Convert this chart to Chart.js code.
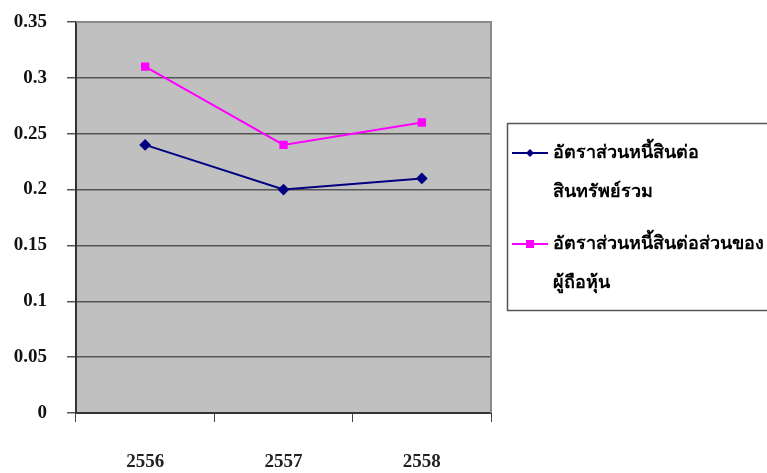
<!DOCTYPE html>
<html>
<head>
<meta charset="utf-8">
<script src="https://cdn.jsdelivr.net/npm/chart.js@4/dist/chart.umd.min.js"></script>
<style>
  html, body { margin: 0; padding: 0; background: #ffffff; }
  #wrap { position: relative; width: 767px; height: 473px; }
</style>
</head>
<body>
<div id="wrap"><canvas id="c" width="767" height="473"></canvas></div>
<script>
// Fiscal years (Buddhist era)
const years = ['2556', '2557', '2558'];
// Debt to total assets ratio
const debtToAssets = [0.24, 0.20, 0.21];
// Debt to shareholders' equity ratio
const debtToEquity = [0.31, 0.24, 0.26];
// Series names, and how they wrap inside the legend box
const seriesNames = ['อัตราส่วนหนี้สินต่อสินทรัพย์รวม', 'อัตราส่วนหนี้สินต่อส่วนของผู้ถือหุ้น'];
const legendLines = [
  ['อัตราส่วนหนี้สินต่อ', 'สินทรัพย์รวม'],
  ['อัตราส่วนหนี้สินต่อส่วนของ', 'ผู้ถือหุ้น']
];
// Value axis
const yMin = 0, yMax = 0.35, yStep = 0.05;

const tickFont = { family: "'Liberation Serif', 'Times New Roman', serif", size: 19, weight: 'bold' };

// Grey plot area with a thin darker frame on top and right
const plotBackground = {
  id: 'plotBackground',
  beforeDraw(chart) {
    const { ctx, chartArea: a } = chart;
    ctx.save();
    ctx.fillStyle = '#c0c0c0';
    ctx.fillRect(a.left, a.top, a.right - a.left, a.bottom - a.top);
    ctx.restore();
  },
  afterDatasetsDraw(chart) {
    const { ctx, chartArea: a } = chart;
    ctx.save();
    ctx.strokeStyle = '#8a8a8a';
    ctx.lineWidth = 2;
    ctx.beginPath();
    ctx.moveTo(a.left, a.top);
    ctx.lineTo(a.right, a.top);
    ctx.lineTo(a.right, a.bottom);
    ctx.stroke();
    ctx.restore();
  }
};

// Boxed legend with wrapped labels to the right of the plot
const boxLegend = {
  id: 'boxLegend',
  afterDraw(chart) {
    const { ctx } = chart;
    const box = { x: 507.5, y: 123.5, w: 280, h: 187 };
    ctx.save();
    ctx.strokeStyle = '#555555';
    ctx.lineWidth = 1.5;
    ctx.strokeRect(box.x, box.y, box.w, box.h);
    ctx.font = "bold 18px 'Liberation Serif', 'Times New Roman', serif";
    ctx.textBaseline = 'middle';
    const rowTops = [153, 244];
    chart.data.datasets.forEach((ds, i) => {
      const y = rowTops[i];
      ctx.strokeStyle = ds.borderColor;
      ctx.lineWidth = 2;
      ctx.beginPath();
      ctx.moveTo(512, y);
      ctx.lineTo(548, y);
      ctx.stroke();
      ctx.fillStyle = ds.pointBackgroundColor;
      if (ds.pointStyle === 'rectRot') {
        ctx.beginPath();
        ctx.moveTo(530, y - 4); ctx.lineTo(534, y); ctx.lineTo(530, y + 4); ctx.lineTo(526, y);
        ctx.closePath(); ctx.fill();
      } else {
        ctx.fillRect(526, y - 4, 8, 8);
      }
      ctx.fillStyle = '#000000';
      legendLines[i].forEach((line, k) => {
        ctx.fillText(line, 553, y + k * 39);
      });
    });
    ctx.restore();
  }
};

new Chart(document.getElementById('c'), {
  type: 'line',
  data: {
    labels: years,
    datasets: [
      {
        label: seriesNames[0],
        data: debtToAssets,
        borderColor: '#000080',
        backgroundColor: '#000080',
        pointBackgroundColor: '#000080',
        pointBorderColor: '#000080',
        pointStyle: 'rectRot',
        pointRadius: 4.5,
        borderWidth: 2,
        tension: 0
      },
      {
        label: seriesNames[1],
        data: debtToEquity,
        borderColor: '#ff00ff',
        backgroundColor: '#ff00ff',
        pointBackgroundColor: '#ff00ff',
        pointBorderColor: '#ff00ff',
        pointStyle: 'rect',
        pointRadius: 4.5,
        borderWidth: 2,
        tension: 0
      }
    ]
  },
  options: {
    responsive: false,
    animation: false,
    layout: { padding: { top: 22, right: 276, bottom: 0, left: 0 } },
    plugins: {
      legend: { display: false },
      tooltip: { enabled: false }
    },
    scales: {
      x: {
        offset: true,
        grid: {
          offset: true,
          drawOnChartArea: false,
          drawTicks: true,
          tickLength: 9,
          color: '#444444'
        },
        border: { color: '#333333', width: 2 },
        ticks: { font: tickFont, color: '#222222', padding: 29, maxRotation: 0 },
        afterFit(scale) { scale.height = 60; scale.paddingLeft = 0; scale.paddingRight = 0; }
      },
      y: {
        min: yMin,
        max: yMax,
        grid: { color: '#555555', lineWidth: 1.5, tickLength: 9, drawTicks: true },
        border: { color: '#333333', width: 2 },
        ticks: {
          stepSize: yStep,
          font: tickFont,
          color: '#111111',
          padding: 20,
          callback: (v) => String(Number(v.toFixed(2)))
        },
        afterFit(scale) { scale.width = 76; scale.paddingTop = 0; scale.paddingBottom = 0; }
      }
    }
  },
  plugins: [plotBackground, boxLegend]
});
</script>
</body>
</html>
